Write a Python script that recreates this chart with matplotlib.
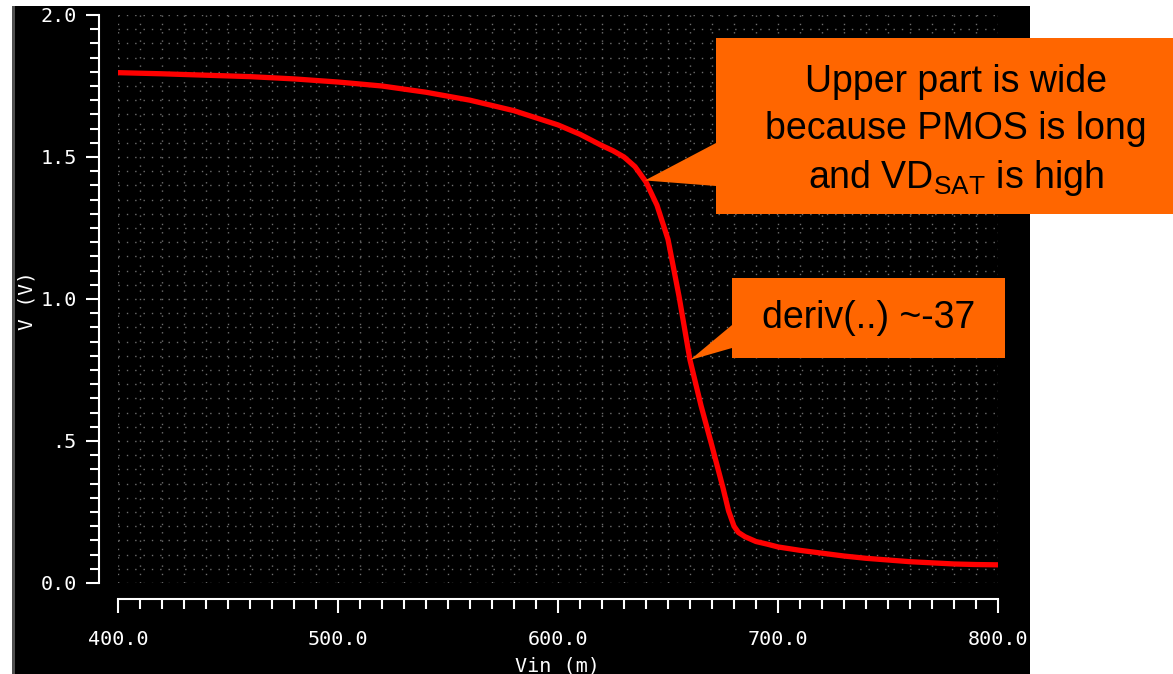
import numpy as np
from matplotlib import pyplot as plt
from matplotlib.patches import Polygon, Rectangle
from matplotlib.ticker import FixedLocator, FixedFormatter, MultipleLocator

plt.rcParams['font.family'] = 'DejaVu Sans Mono'
plt.rcParams['mathtext.fontset'] = 'custom'
plt.rcParams['mathtext.rm'] = 'Liberation Sans'

# inverter transfer curve, Vin in mV, Vout in V
vin = [400, 420, 440, 460, 480, 500, 520, 540, 560, 580, 600, 610, 620, 625, 630, 635,
       640, 645, 650, 655, 660, 665, 670, 675, 677.5, 680, 682, 685, 690, 695, 700, 710,
       720, 730, 740, 750, 760, 770, 780, 790, 800]
vout = [1.797, 1.793, 1.788, 1.783, 1.775, 1.764, 1.750, 1.728, 1.700, 1.663, 1.613, 1.580,
        1.540, 1.522, 1.500, 1.466, 1.412, 1.330, 1.210, 1.010, 0.785, 0.625, 0.482, 0.335,
        0.255, 0.200, 0.178, 0.163, 0.146, 0.137, 0.127, 0.115, 0.105, 0.095, 0.087, 0.081,
        0.075, 0.071, 0.067, 0.065, 0.064]

x_ticks = [400, 500, 600, 700, 800]
x_tick_labels = ['400.0', '500.0', '600.0', '700.0', '800.0']
y_ticks = [0.0, 0.5, 1.0, 1.5, 2.0]
y_tick_labels = ['0.0', '.5', '1.0', '1.5', '2.0']

note_texts = ['Upper part is wide\nbecause PMOS is long\nand VD$_{\\mathrm{SAT}}$ is high',
              'deriv(..) ~-37']
note_vin = [639.5, 660.0]

W, H = 1173, 674


def fig_xy(x, y):
    # pixel coords with origin top-left -> figure fraction
    return x / W, 1 - y / H


def callout(fig, ax, box, base, tip, text, dy=0):
    left, top, right, bottom = box
    tx, ty = ax.transData.transform(tip)
    ty = H - ty
    verts = [(left, top), (right, top), (right, bottom), (left, bottom),
             (left, base[1]), (tx, ty), (left, base[0])]
    poly = Polygon([fig_xy(x, y) for x, y in verts], closed=True, transform=fig.transFigure,
                   facecolor='#ff6600', edgecolor='none', zorder=5)
    fig.add_artist(poly)
    cx, cy = fig_xy((left + right) / 2, (top + bottom) / 2 + dy)
    fig.text(cx, cy, text, ha='center', va='center', fontsize=27, family='Liberation Sans',
             color='black', linespacing=1.38, zorder=6)


def main():
    fig = plt.figure(figsize=(W / 100, H / 100), dpi=100)
    fig.patch.set_facecolor('white')
    fig.add_artist(Rectangle((14 / W, 0), (1030 - 14) / W, (H - 6) / H, transform=fig.transFigure,
                             facecolor='black', edgecolor='none', zorder=0))
    fig.add_artist(Rectangle((12 / W, 0), 3 / W, (H - 6) / H, transform=fig.transFigure,
                             facecolor='#505050', edgecolor='none', zorder=0))

    ax = fig.add_axes([118 / W, (H - 583) / H, (998 - 118) / W, (583 - 15) / H])
    ax.set_facecolor('black')
    ax.set_xlim(400, 800)
    ax.set_ylim(0, 2)

    ax.plot(vin, vout, color='#ff0000', lw=3.8, zorder=3)

    for side in ['top', 'right']:
        ax.spines[side].set_visible(False)
    ax.spines['left'].set_position(('outward', 13.7))
    ax.spines['bottom'].set_position(('outward', 11.5))
    for side in ['left', 'bottom']:
        ax.spines[side].set_color('white')
        ax.spines[side].set_linewidth(1.5)

    ax.xaxis.set_major_locator(FixedLocator(x_ticks))
    ax.xaxis.set_major_formatter(FixedFormatter(x_tick_labels))
    ax.xaxis.set_minor_locator(MultipleLocator(10))
    ax.yaxis.set_major_locator(FixedLocator(y_ticks))
    ax.yaxis.set_major_formatter(FixedFormatter(y_tick_labels))
    ax.yaxis.set_minor_locator(MultipleLocator(0.05))

    ax.tick_params(which='both', direction='out', color='white', width=1.5,
                   labelcolor='white', labelsize=14.5)
    ax.tick_params(axis='y', which='major', length=9.4, pad=6.5)
    ax.tick_params(axis='y', which='minor', length=6.5)
    ax.tick_params(axis='x', which='major', length=10, pad=12)
    ax.tick_params(axis='x', which='minor', length=7.2)

    ax.grid(which='both', color='#6e6e6e', linestyle=(0, (1, 5)), linewidth=1.0)
    ax.set_axisbelow(True)

    fig.text(*fig_xy(27, 301), 'V (V)', rotation=90, ha='center', va='center',
             color='white', fontsize=14)
    fig.text(*fig_xy(557, 666), 'Vin (m)', ha='center', va='center', color='white', fontsize=14.5)

    tips = [(v, float(np.interp(v, vin, vout))) for v in note_vin]
    callout(fig, ax, (716, 38, 1196, 214), (143, 186), tips[0], note_texts[0], dy=5)
    callout(fig, ax, (732, 278, 1005, 358), (325, 348), tips[1], note_texts[1])

    fig.savefig('out.png', dpi=100)


if __name__ == '__main__':
    main()
